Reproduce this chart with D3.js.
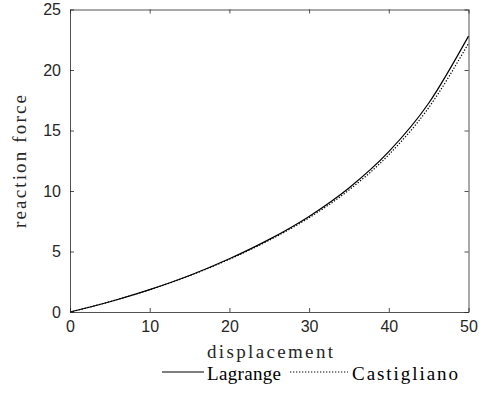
<!DOCTYPE html>
<html>
<head>
<meta charset="utf-8">
<script src="https://cdn.jsdelivr.net/npm/d3@7"></script>
<style>
  body { margin: 0; background: #fff; }
  svg { display: block; }
</style>
</head>
<body>
<svg id="chart" width="479" height="414"></svg>
<script>
// Values.
var displacement = [0, 5, 10, 15, 20, 25, 30, 35, 40, 45, 50];
var lagrange = [0, 0.85, 1.85, 3.02, 4.4, 6.0, 7.9, 10.25, 13.25, 17.25, 22.8];
var castigliano = [0, 0.85, 1.84, 3.0, 4.36, 5.93, 7.79, 10.08, 13.0, 16.88, 22.2];
var xTicks = [0, 10, 20, 30, 40, 50];
var yTicks = [0, 5, 10, 15, 20, 25];

var svg = d3.select('#chart');
var margin = { left: 70, right: 10.5, top: 9.5, bottom: 102 };
var width = 479 - margin.left - margin.right;
var height = 414 - margin.top - margin.bottom;
var axisColor = '#262626';
var serif = 'Liberation Serif, Times New Roman, serif';

var x = d3.scaleLinear().domain([0, 50]).range([0, width]);
var y = d3.scaleLinear().domain([0, 25]).range([height, 0]);

var g = svg.append('g')
  .attr('transform', 'translate(' + margin.left + ',' + margin.top + ')');

// Curves
var series = [
  { name: 'Lagrange', values: lagrange, dash: null },
  { name: 'Castigliano', values: castigliano, dash: '1.3,1.7' }
];

var line = d3.line()
  .x(function(d) { return x(d[0]); })
  .y(function(d) { return y(d[1]); })
  .curve(d3.curveMonotoneX);

series.forEach(function(s) {
  g.append('path')
    .datum(displacement.map(function(v, i) { return [v, s.values[i]]; }))
    .attr('fill', 'none')
    .attr('stroke', '#000')
    .attr('stroke-width', 1.2)
    .attr('stroke-dasharray', s.dash)
    .attr('d', line);
});

// Axes box with inward ticks on all four sides (MATLAB style).
function styleAxis(sel) {
  sel.selectAll('.domain').attr('stroke', axisColor).attr('stroke-width', 0.8);
  sel.selectAll('.tick line').attr('stroke', axisColor).attr('stroke-width', 0.8);
  sel.selectAll('.tick text')
    .attr('fill', axisColor)
    .style('font-family', 'Liberation Sans, Arial, sans-serif')
    .style('font-size', '16px');
}

g.append('g')
  .attr('transform', 'translate(0,' + height + ')')
  .call(d3.axisBottom(x).tickValues(xTicks).tickSize(-4).tickPadding(9).tickSizeOuter(0))
  .call(styleAxis);

g.append('g')
  .call(d3.axisTop(x).tickValues(xTicks).tickSize(-4).tickFormat('').tickSizeOuter(0))
  .call(styleAxis);

g.append('g')
  .call(d3.axisLeft(y).tickValues(yTicks).tickSize(-4).tickPadding(9).tickSizeOuter(0))
  .call(styleAxis);

g.append('g')
  .attr('transform', 'translate(' + width + ',0)')
  .call(d3.axisRight(y).tickValues(yTicks).tickSize(-4).tickFormat('').tickSizeOuter(0))
  .call(styleAxis);

// Axis labels
svg.append('text')
  .attr('x', 207)
  .attr('y', 358)
  .attr('textLength', 126)
  .attr('lengthAdjust', 'spacing')
  .attr('fill', axisColor)
  .style('font-family', serif)
  .style('font-size', '19px')
  .text('displacement');

svg.append('text')
  .attr('transform', 'translate(26,228) rotate(-90)')
  .attr('textLength', 133)
  .attr('lengthAdjust', 'spacing')
  .attr('fill', axisColor)
  .style('font-family', serif)
  .style('font-size', '19px')
  .text('reaction force');

// Legend
var legendItems = [
  { lineX: 162, lineW: 42, textX: 207, textW: 74 },
  { lineX: 290, lineW: 58, textX: 352, textW: 106 }
];
series.forEach(function(s, i) {
  var it = legendItems[i];
  svg.append('line')
    .attr('x1', it.lineX).attr('x2', it.lineX + it.lineW)
    .attr('y1', 372).attr('y2', 372)
    .attr('stroke', '#000')
    .attr('stroke-width', 1.2)
    .attr('stroke-dasharray', s.dash);
  svg.append('text')
    .attr('x', it.textX)
    .attr('y', 380)
    .attr('textLength', it.textW)
    .attr('lengthAdjust', 'spacing')
    .attr('fill', '#000')
    .style('font-family', serif)
    .style('font-size', '19px')
    .text(s.name);
});
</script>
</body>
</html>
